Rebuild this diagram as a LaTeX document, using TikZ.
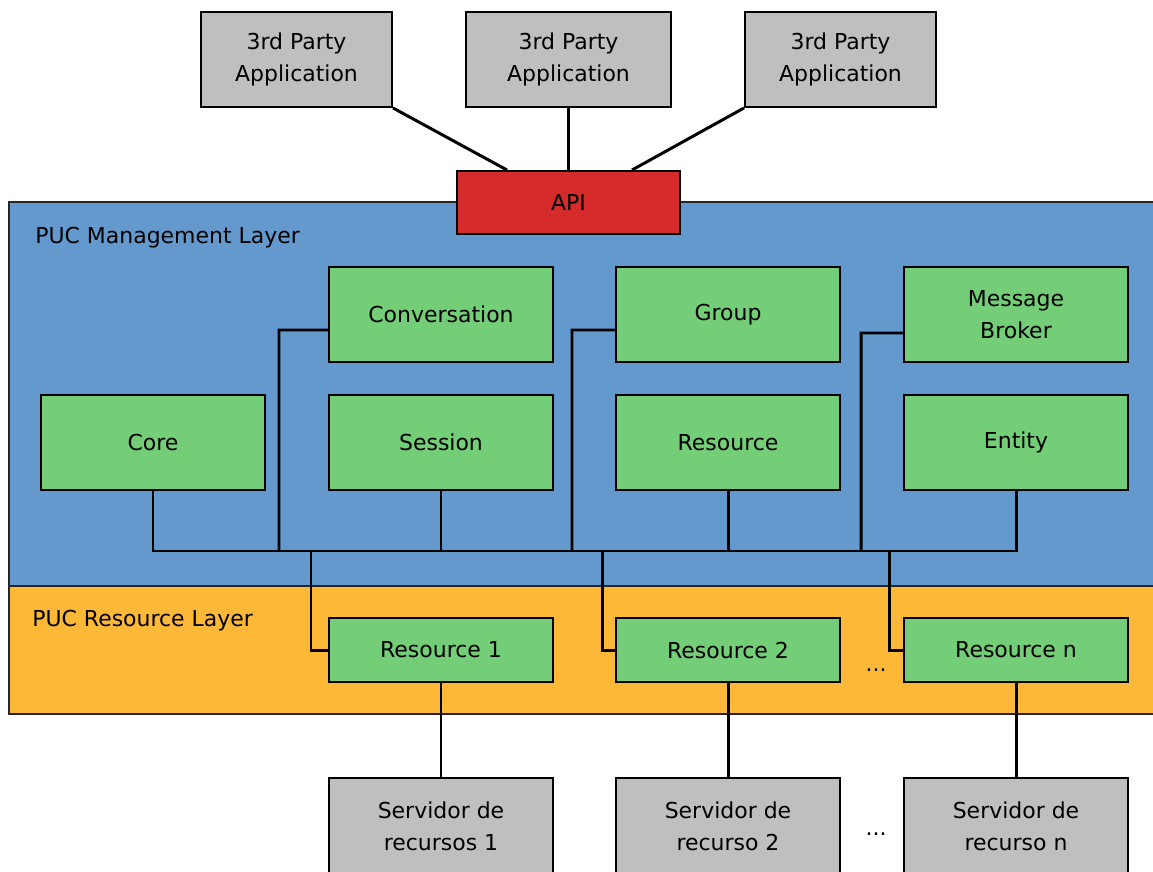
\documentclass[tikz,border=0pt]{standalone}
\usepackage{fontspec}
\setmainfont{DejaVu Sans}
\usetikzlibrary{calc}
\definecolor{layerblue}{HTML}{6499CE}
\definecolor{layerorange}{HTML}{FDB837}
\definecolor{modgreen}{HTML}{74CE78}
\definecolor{extgray}{HTML}{BFBFBF}
\definecolor{apired}{HTML}{D52B2B}
\tikzset{
  box/.style={draw=black, line width=1.1pt, align=center, inner sep=0pt,
    font=\fontsize{12.5}{18}\selectfont},
  greenbox/.style={box, fill=modgreen, minimum width=224*0.02cm, minimum height=95*0.02cm},
  resbox/.style={box, fill=modgreen, minimum width=224*0.02cm, minimum height=64*0.02cm},
  graybox/.style={box, fill=extgray, minimum height=95*0.02cm},
  layer/.style={draw=black!85, line width=0.9pt},
  wire/.style={draw=black, line width=1.7pt},
  layertext/.style={anchor=west, inner sep=0pt, font=\fontsize{12.5}{18}\selectfont},
}
\begin{document}
\begin{tikzpicture}[x=0.02cm, y=-0.02cm]
\useasboundingbox (0,0) rectangle (1153,872);
\fill[white] (0,0) rectangle (1153,872);

% layers
\draw[layer, fill=layerblue] (9,202) rectangle (1170,586);
\draw[layer, fill=layerorange] (9,586) rectangle (1170,714);
\node[layertext] (mgmt) at (35,238) {PUC Management Layer};
\node[layertext] (reslayer) at (32,621) {PUC Resource Layer};

% external applications and API
\node[graybox, minimum width=191*0.02cm] (app1) at (296.5,59.5) {3rd Party\\Application};
\node[graybox, minimum width=205*0.02cm] (app2) at (568.5,59.5) {3rd Party\\Application};
\node[graybox, minimum width=191*0.02cm] (app3) at (840.5,59.5) {3rd Party\\Application};
\node[box, fill=apired, minimum width=223*0.02cm, minimum height=63*0.02cm] (api) at (568.5,202.5) {API};

% management modules
\node[greenbox] (conv) at (441,314.5) {Conversation};
\node[greenbox] (group) at (728,314.5) {Group};
\node[greenbox] (broker) at (1016,314.5) {Message\\Broker};
\node[greenbox] (core) at (153,442.5) {Core};
\node[greenbox] (session) at (441,442.5) {Session};
\node[greenbox] (resource) at (728,442.5) {Resource};
\node[greenbox] (entity) at (1016,442.5) {Entity};

% resources
\node[resbox] (res1) at (441,650) {Resource 1};
\node[resbox] (res2) at (728,650) {Resource 2};
\node[resbox] (resn) at (1016,650) {Resource n};
\node[box, draw=none] (dots1) at (876,670) {...};

% resource servers
\node[graybox, minimum width=224*0.02cm, minimum height=96*0.02cm] (srv1) at (441,826) {Servidor de\\recursos 1};
\node[graybox, minimum width=224*0.02cm, minimum height=96*0.02cm] (srv2) at (728,826) {Servidor de\\recurso 2};
\node[graybox, minimum width=224*0.02cm, minimum height=96*0.02cm] (srvn) at (1016,826) {Servidor de\\recurso n};
\node[box, draw=none] (dots2) at (876,834) {...};

% bus coordinates
\coordinate (bus) at (0,551);
\coordinate (tap1) at (311,551);
\coordinate (tap2) at (602,551);
\coordinate (tapn) at (889,551);

% applications to API
\draw[wire] (app1.south east) -- ($(api.north west)+(51,0)$);
\draw[wire] (app2.south) -- (api.north);
\draw[wire] (app3.south west) -- ($(api.north east)+(-49,0)$);

% management bus
\draw[wire] (core.south) -- (core.south |- bus) -- (entity.south |- bus) -- (entity.south);
\draw[wire] (session.south) -- (session.south |- bus);
\draw[wire] (resource.south) -- (resource.south |- bus);
\draw[wire] ($(conv.west)+(0,15.5)$) -- (279,330) -- (279,551);
\draw[wire] ($(group.west)+(0,15.5)$) -- (572,330) -- (572,551);
\draw[wire] ($(broker.west)+(0,18.5)$) -- (861,333) -- (861,551);

% bus to resources
\draw[wire] (tap1) -- (tap1 |- res1.west) -- (res1.west);
\draw[wire] (tap2) -- (tap2 |- res2.west) -- (res2.west);
\draw[wire] (tapn) -- (tapn |- resn.west) -- (resn.west);

% resources to servers
\draw[wire] (res1.south) -- (srv1.north);
\draw[wire] (res2.south) -- (srv2.north);
\draw[wire] (resn.south) -- (srvn.north);
\end{tikzpicture}
\end{document}
